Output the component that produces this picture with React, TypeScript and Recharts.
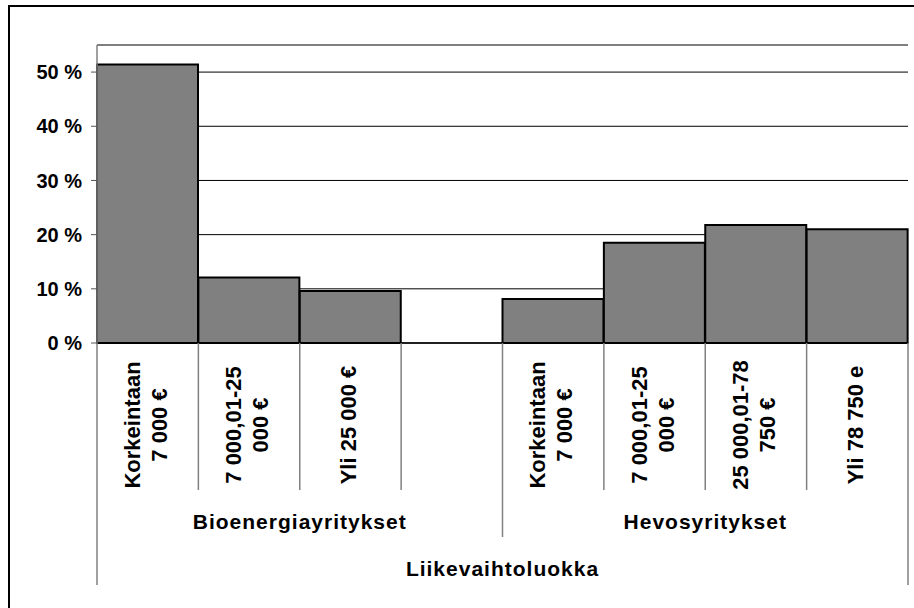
import React from 'react'
import { BarChart, Bar, XAxis, YAxis, CartesianGrid } from 'recharts'

// category keys are unique, labels repeat between the two groups
const categoryKeys = ['bio1', 'bio2', 'bio3', 'gap', 'hev1', 'hev2', 'hev3', 'hev4']
const categoryLabels: string[][] = [
  ['Korkeintaan', '7 000 €'],
  ['7 000,01-25', '000 €'],
  ['Yli 25 000 €'],
  [],
  ['Korkeintaan', '7 000 €'],
  ['7 000,01-25', '000 €'],
  ['25 000,01-78', '750 €'],
  ['Yli 78 750 e'],
]
const groupNames = ['Bioenergiayritykset', 'Hevosyritykset']
const groupOf = [0, 0, 0, 0, 1, 1, 1, 1]
const shares: (number | null)[] = [51.4, 12.1, 9.6, null, 8.1, 18.5, 21.8, 21.0]
const yTicks = [0, 10, 20, 30, 40, 50]
const axisTitle = 'Liikevaihtoluokka'

const data = categoryKeys.map((key, i) => ({ key, share: shares[i] }))

const W = 914
const H = 608
const FONT = '"Liberation Sans", Arial, sans-serif'
const PLOT_LEFT = 97
const PLOT_RIGHT = 908

function CategoryTick(props: any) {
  const { x, y, payload, index } = props
  let i = categoryKeys.indexOf(payload?.value)
  if (i < 0) i = index ?? 0
  const n = categoryKeys.length
  const half = payload?.offset || (PLOT_RIGHT - PLOT_LEFT) / n / 2
  const left = x - half
  const right = x + half
  const lines = categoryLabels[i] || []
  const g = groupOf[i]
  const firstInGroup = i === 0 || groupOf[i - 1] !== g
  const groupCount = groupOf.filter(v => v === g).length
  const leftLen = i === 0 ? 242 : firstInGroup ? 194 : 147
  const textStyle = { fontFamily: FONT, fontWeight: 700, fill: '#000' }
  return (
    <g>
      <line x1={left} x2={left} y1={y} y2={y + leftLen} stroke="#808080" strokeWidth={1.5} />
      {i === n - 1 && (
        <line x1={right} x2={right} y1={y} y2={y + 242} stroke="#808080" strokeWidth={1.5} />
      )}
      {lines.map((t, j) => {
        const lx = x - 2 + (j - (lines.length - 1) / 2) * 27
        const ly = y + 82
        return (
          <text
            key={j}
            x={lx}
            y={ly}
            transform={`rotate(-90 ${lx} ${ly})`}
            textAnchor="middle"
            dominantBaseline="central"
            fontSize={22}
            style={textStyle}
          >
            {t}
          </text>
        )
      })}
      {firstInGroup && (
        <text
          x={left + groupCount * half}
          y={y + 178}
          textAnchor="middle"
          dominantBaseline="central"
          fontSize={21}
          letterSpacing={1}
          style={textStyle}
        >
          {groupNames[g]}
        </text>
      )}
      {i === 0 && (
        <text
          x={left + n * half}
          y={y + 225}
          textAnchor="middle"
          dominantBaseline="central"
          fontSize={21}
          letterSpacing={1}
          style={textStyle}
        >
          {axisTitle}
        </text>
      )}
    </g>
  )
}

export default function App() {
  return (
    <div style={{ position: 'fixed', left: 0, top: 0, width: W, height: H, overflow: 'hidden', background: '#fff' }}>
      <div
        style={{
          position: 'absolute',
          left: 8,
          top: 5,
          width: 1000,
          height: 700,
          border: '2px solid #000',
          boxSizing: 'border-box',
        }}
      />
      <div style={{ position: 'absolute', left: 0, top: 0 }}>
        <BarChart
          width={W}
          height={H}
          data={data}
          margin={{ top: 45, right: 6, bottom: 0, left: 8 }}
          barCategoryGap={0}
          barGap={0}
        >
          <CartesianGrid vertical={false} stroke="#000" strokeWidth={1} />
          <XAxis
            dataKey="key"
            height={265}
            interval={0}
            tickSize={0}
            tickMargin={0}
            tickLine={false}
            axisLine={{ stroke: '#000', strokeWidth: 1.5 }}
            tick={<CategoryTick />}
          />
          <XAxis
            xAxisId="top"
            orientation="top"
            dataKey="key"
            height={0}
            tick={false}
            tickLine={false}
            axisLine={{ stroke: '#808080', strokeWidth: 1.5 }}
          />
          <YAxis
            domain={[0, 55]}
            ticks={yTicks}
            width={89}
            interval={0}
            tickSize={6}
            tickMargin={9}
            tickFormatter={(v: number) => `${v} %`}
            tick={{ fontSize: 20, fontWeight: 700, fill: '#000', fontFamily: FONT }}
            tickLine={{ stroke: '#555' }}
            axisLine={{ stroke: '#808080', strokeWidth: 1.5 }}
          />
          <YAxis
            yAxisId="right"
            orientation="right"
            domain={[0, 55]}
            width={0}
            tick={false}
            tickLine={false}
            axisLine={{ stroke: '#808080', strokeWidth: 1.5 }}
          />
          <Bar dataKey="share" fill="#808080" stroke="#000" strokeWidth={2} isAnimationActive={false} />
        </BarChart>
      </div>
    </div>
  )
}
